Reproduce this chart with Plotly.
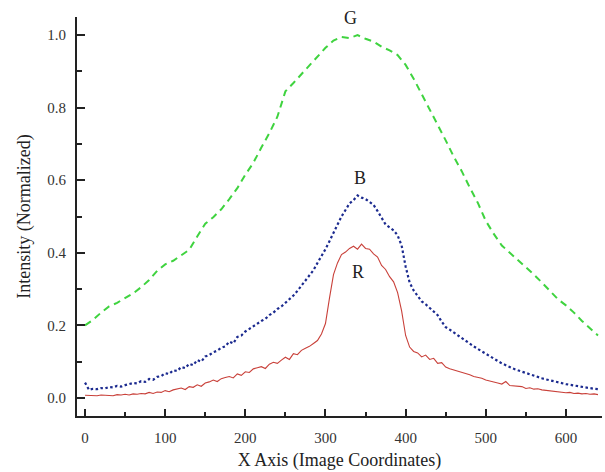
import plotly.graph_objects as go

# x grid (image coordinates)
x_rb = list(range(0, 645, 5))
x_g = list(range(0, 645, 10))

R = [0.007, 0.006, 0.007, 0.006, 0.008, 0.007, 0.008, 0.006, 0.009, 0.008,
     0.010, 0.008, 0.011, 0.010, 0.012, 0.011, 0.015, 0.012, 0.016, 0.015,
     0.020, 0.017, 0.022, 0.024, 0.027, 0.023, 0.031, 0.029, 0.036, 0.032,
     0.041, 0.044, 0.049, 0.045, 0.053, 0.056, 0.059, 0.055, 0.066, 0.062,
     0.072, 0.070, 0.080, 0.083, 0.086, 0.081, 0.093, 0.098, 0.095, 0.104,
     0.112, 0.106, 0.122, 0.119, 0.131, 0.137, 0.142, 0.150, 0.158, 0.176,
     0.205, 0.275, 0.340, 0.372, 0.395, 0.402, 0.412, 0.418, 0.410, 0.424,
     0.412, 0.410, 0.397, 0.388, 0.365, 0.354, 0.334, 0.320, 0.290, 0.240,
     0.172, 0.140, 0.128, 0.124, 0.113, 0.118, 0.106, 0.109, 0.095, 0.097,
     0.085, 0.080, 0.077, 0.073, 0.070, 0.066, 0.064, 0.059, 0.057, 0.054,
     0.049, 0.047, 0.044, 0.041, 0.038, 0.045, 0.034, 0.033, 0.030, 0.031,
     0.026, 0.028, 0.024, 0.025, 0.022, 0.021, 0.018, 0.019, 0.017, 0.016,
     0.014, 0.015, 0.012, 0.013, 0.011, 0.012, 0.010, 0.011, 0.009]

B = [0.042, 0.022, 0.025, 0.024, 0.027, 0.026, 0.030, 0.029, 0.033, 0.031,
     0.035, 0.037, 0.041, 0.040, 0.046, 0.044, 0.052, 0.050, 0.058, 0.060,
     0.068, 0.066, 0.076, 0.074, 0.085, 0.082, 0.094, 0.090, 0.104, 0.100,
     0.114, 0.118, 0.126, 0.130, 0.138, 0.142, 0.155, 0.150, 0.168, 0.172,
     0.183, 0.190, 0.198, 0.205, 0.212, 0.218, 0.228, 0.235, 0.245, 0.252,
     0.262, 0.270, 0.282, 0.295, 0.310, 0.322, 0.338, 0.352, 0.372, 0.390,
     0.410, 0.432, 0.455, 0.475, 0.500, 0.518, 0.536, 0.545, 0.558, 0.552,
     0.548, 0.540, 0.532, 0.515, 0.495, 0.478, 0.470, 0.462, 0.448, 0.420,
     0.362, 0.318, 0.296, 0.282, 0.266, 0.258, 0.248, 0.240, 0.228, 0.210,
     0.195, 0.188, 0.180, 0.172, 0.165, 0.158, 0.150, 0.142, 0.135, 0.128,
     0.122, 0.115, 0.108, 0.102, 0.095, 0.090, 0.084, 0.080, 0.076, 0.072,
     0.068, 0.064, 0.061, 0.057, 0.054, 0.051, 0.048, 0.045, 0.042, 0.040,
     0.038, 0.036, 0.034, 0.031, 0.030, 0.028, 0.027, 0.025, 0.024]

G = [0.200, 0.215, 0.235, 0.252, 0.262, 0.275, 0.288, 0.305, 0.325, 0.350,
     0.368, 0.378, 0.392, 0.408, 0.445, 0.480, 0.498, 0.520, 0.548, 0.578,
     0.615, 0.648, 0.690, 0.730, 0.775, 0.845, 0.868, 0.892, 0.915, 0.940,
     0.965, 0.985, 0.995, 0.992, 1.000, 0.990, 0.982, 0.968, 0.958, 0.945,
     0.918, 0.880, 0.838, 0.795, 0.752, 0.710, 0.665, 0.625, 0.580, 0.538,
     0.488, 0.452, 0.420, 0.400, 0.382, 0.360, 0.340, 0.318, 0.295, 0.272,
     0.255, 0.235, 0.212, 0.192, 0.172]

labels = ["G", "B", "R"]
label_x = [331, 343, 341]
label_y = [1.047, 0.606, 0.347]

font_family = "Liberation Serif, Times New Roman, serif"

fig = go.Figure()
fig.add_trace(go.Scatter(x=x_g, y=G, mode="lines",
                         line=dict(color="#3fd33f", width=2, dash="7px,5px"),
                         showlegend=False))
fig.add_trace(go.Scatter(x=x_rb, y=B, mode="lines",
                         line=dict(color="#1b2a8f", width=2.2, dash="2.5px,2.5px"),
                         showlegend=False))
fig.add_trace(go.Scatter(x=x_rb, y=R, mode="lines",
                         line=dict(color="#c9413a", width=1.1),
                         showlegend=False))

for t, lx, ly in zip(labels, label_x, label_y):
    fig.add_annotation(x=lx, y=ly, text=t, showarrow=False,
                       font=dict(family=font_family, size=18, color="#222"))

fig.update_layout(
    width=605, height=472,
    margin=dict(l=77, r=3, t=17, b=56),
    paper_bgcolor="white", plot_bgcolor="white",
    font=dict(family=font_family, color="#333"),
)
fig.update_xaxes(
    range=[-10, 645], showgrid=False, zeroline=False,
    showline=True, linecolor="#222", linewidth=2,
    ticks="inside", ticklen=7, tickwidth=2, tickcolor="#222",
    tickvals=[0, 100, 200, 300, 400, 500, 600],
    tickfont=dict(size=15, color="#333"), ticklabelstandoff=7,
    minor=dict(tickvals=[50, 150, 250, 350, 450, 550], ticks="inside",
               ticklen=4, tickwidth=2, tickcolor="#222"),
    title=dict(text="X Axis (Image Coordinates)", font=dict(size=18, color="#222"), standoff=8),
)
fig.update_yaxes(
    range=[-0.05, 1.05], showgrid=False, zeroline=False,
    showline=True, linecolor="#222", linewidth=2,
    ticks="inside", ticklen=8, tickwidth=2, tickcolor="#222",
    tickvals=[0, 0.2, 0.4, 0.6, 0.8, 1.0], tickformat=".1f",
    tickfont=dict(size=15, color="#333"), ticklabelstandoff=6,
    minor=dict(tickvals=[0.1, 0.3, 0.5, 0.7, 0.9], ticks="inside",
               ticklen=5, tickwidth=2, tickcolor="#222"),
    title=dict(text="Intensity (Normalized)", font=dict(size=18, color="#222"), standoff=12),
)

fig.write_html("out.html", config={"displayModeBar": False},
               post_script="document.body.style.margin='0px';")
